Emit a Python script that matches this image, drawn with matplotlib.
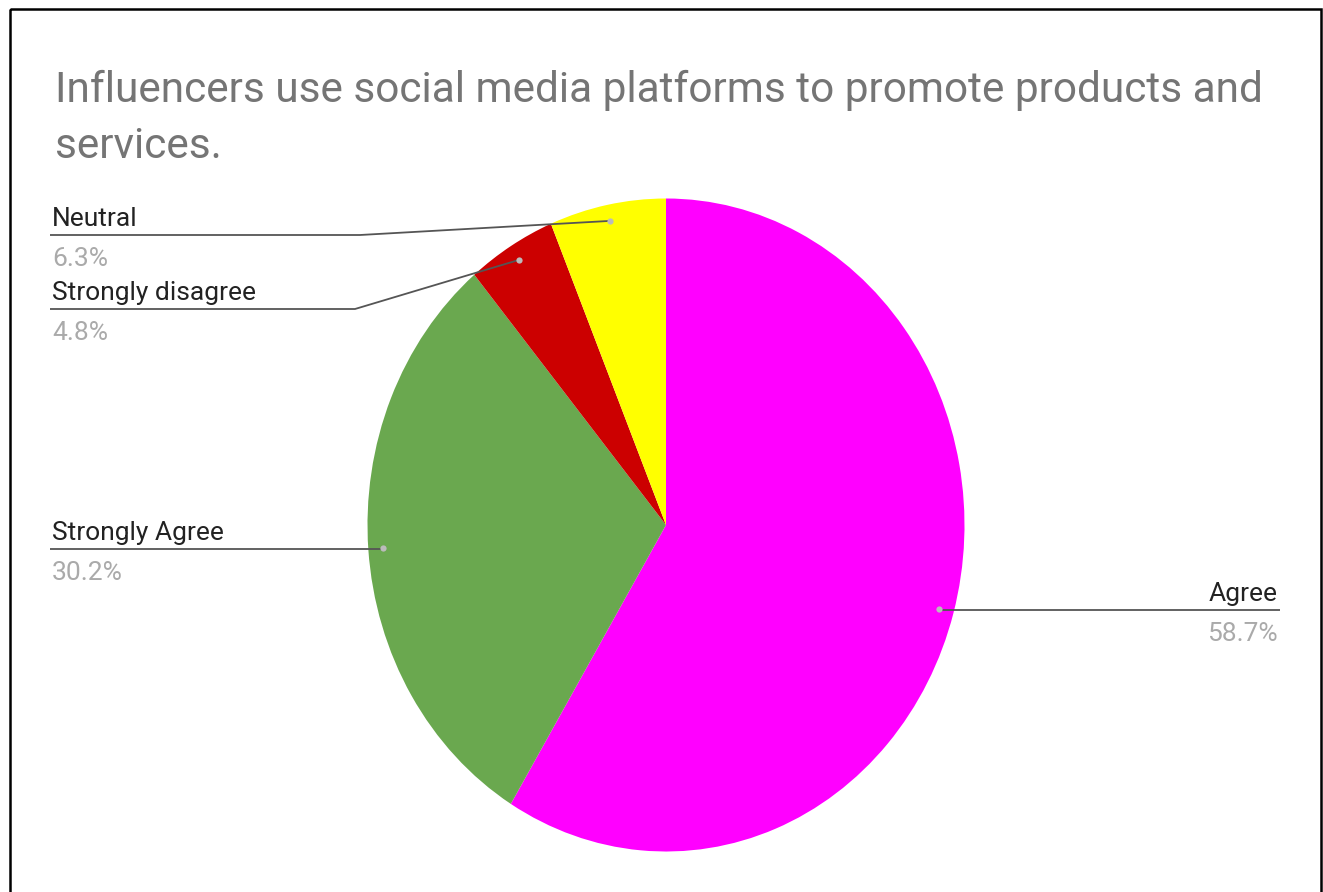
import numpy as np
import matplotlib.pyplot as plt
from matplotlib.patches import Rectangle

# survey answers, clockwise from 12 o'clock
labels = ["Agree", "Strongly Agree", "Strongly disagree", "Neutral"]
values = [58.7, 30.2, 4.8, 6.3]
colors = ["#FF00FF", "#6AA84F", "#CC0000", "#FFFF00"]
title = "Influencers use social media platforms to promote products and\nservices."

W, H = 1323, 892
plt.rcParams["font.family"] = ["Roboto", "DejaVu Sans"]

fig = plt.figure(figsize=(W / 100, H / 100), dpi=100)
fig.patch.set_facecolor("white")

# pie area in pixels (left, top, width, height) - the chart is a bit taller than wide
px_left, px_top, px_w, px_h = 367.5, 198.5, 597, 653
ax = fig.add_axes([px_left / W, 1 - (px_top + px_h) / H, px_w / W, px_h / H])
wedges, _ = ax.pie(values, colors=colors, startangle=90, counterclock=False,
                   wedgeprops=dict(linewidth=0))
ax.set_aspect("auto")
ax.set_xlim(-1, 1)
ax.set_ylim(-1, 1)

# overlay in pixel coordinates for the frame, title and leader lines
ov = fig.add_axes([0, 0, 1, 1])
ov.set_xlim(0, W)
ov.set_ylim(H, 0)
ov.axis("off")
ov.patch.set_alpha(0)

ov.add_patch(Rectangle((10, 9), 1311, 900, fill=False, edgecolor="black", linewidth=1.8))

# baseline alignment applies to the last line of the title
ov.text(55, 158, title, fontsize=30.5, color="#757575", va="baseline", ha="left",
        linespacing=1.48, multialignment="left")

# label layout: (line y, line start x, elbow x, side)
layout = {
    "Neutral": (235, 50, 360, "left"),
    "Strongly disagree": (309, 50, 355, "left"),
    "Strongly Agree": (549, 50, None, "left"),
    "Agree": (610, 1280, None, "right"),
}

to_ov = ax.transData + ov.transData.inverted()
for w, lab, val in zip(wedges, labels, values):
    mid = np.deg2rad((w.theta1 + w.theta2) / 2)
    ax_pt = to_ov.transform((0.95 * np.cos(mid), 0.95 * np.sin(mid)))
    y, x0, elbow, side = layout[lab]
    if elbow is None:
        xs, ys = [x0, ax_pt[0]], [y, y]
    else:
        xs, ys = [x0, elbow, ax_pt[0]], [y, y, ax_pt[1]]
    ov.plot(xs, ys, color="#555555", linewidth=1.3, solid_capstyle="butt")
    ov.plot(*ax_pt, marker="o", markersize=4.5, color="#bbbbbb", markeredgewidth=0)
    ha = "left" if side == "left" else "right"
    tx = x0 + (2 if side == "left" else -2)
    ov.text(tx, y - 9, lab, fontsize=19, color="#222222", ha=ha, va="baseline")
    ov.text(tx, y + 12, f"{val:.1f}%", fontsize=19, color="#aaaaaa", ha=ha, va="top")

fig.savefig("out.png", dpi=100)
